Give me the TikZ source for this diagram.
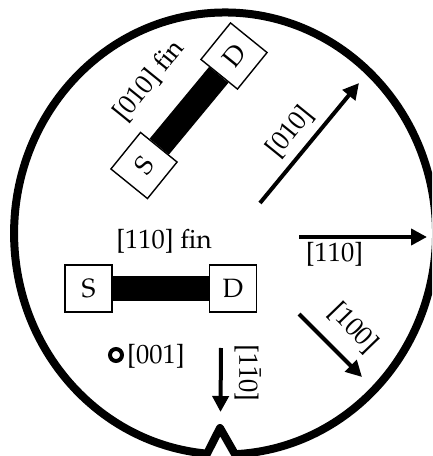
\documentclass[tikz,border=0pt]{standalone}
\usepackage[T1]{fontenc}
\renewcommand{\rmdefault}{ppl}
\usetikzlibrary{arrows.meta}
\tikzset{
  x=1pt,y=1pt,
  lbl/.style={inner sep=0pt,font=\fontsize{26.5}{30}\selectfont},
  pad/.style={draw=black,fill=white,line width=1.4pt,minimum size=47pt,inner sep=0pt,font=\fontsize{26.5}{30}\selectfont},
  finbar/.style={line width=25pt,black},
  dir/.style={line width=4pt,-{Triangle[length=16pt,width=16pt]}},
  outline/.style={line width=8pt,black,line join=round}
}
\begin{document}
\begin{tikzpicture}
\useasboundingbox (0,0) rectangle (432,456);
\clip (0,0) rectangle (432,456);
% wafer
\coordinate (nr) at (235,1.8);
\coordinate (apex) at (220,28);
\coordinate (nl) at (207,1.8);
\draw[outline] (nr) arc[start angle=-87.3,end angle=265.1,x radius=211,y radius=221] -- (apex) -- cycle;
% horizontal device
\node[pad] (sa) at (88.5,167.5) {S};
\node[pad] (da) at (233,167.5) {D};
\draw[finbar] (sa.east) -- (da.west);
\node[lbl] (fa) at (164,215) {[110] fin};
% rotated device
\node[pad,rotate=51] (sb) at (144,290.5) {S};
\node[pad,rotate=51] (db) at (234,400) {D};
\draw[finbar] (sb.east) -- (db.west);
\node[lbl,rotate=51] (fb) at (149,375) {[010] fin};
% direction arrows
\coordinate (a1s) at (260,253); \coordinate (a1e) at (359,373);
\draw[dir] (a1s) -- (a1e);
\node[lbl,rotate=51] (l1) at (290,324) {[010]};
\coordinate (a2s) at (299,219); \coordinate (a2e) at (427,219);
\draw[dir] (a2s) -- (a2e);
\node[lbl] (l2) at (334.5,202) {[110]};
\coordinate (a3s) at (299,142); \coordinate (a3e) at (362,79);
\draw[dir] (a3s) -- (a3e);
\node[lbl,rotate=-46] (l3) at (353,128) {[100]};
\coordinate (a4s) at (221,108); \coordinate (a4e) at (220.5,44);
\draw[dir] (a4s) -- (a4e);
\node[lbl,rotate=-90] (l4) at (248,83) {[1\={1}0]};
% out-of-plane marker
\node[circle,draw=black,line width=4pt,minimum size=12pt,inner sep=0pt] (m) at (116,101) {};
\node[lbl,anchor=west] (l5) at (127,100) {[001]};
\end{tikzpicture}
\end{document}
